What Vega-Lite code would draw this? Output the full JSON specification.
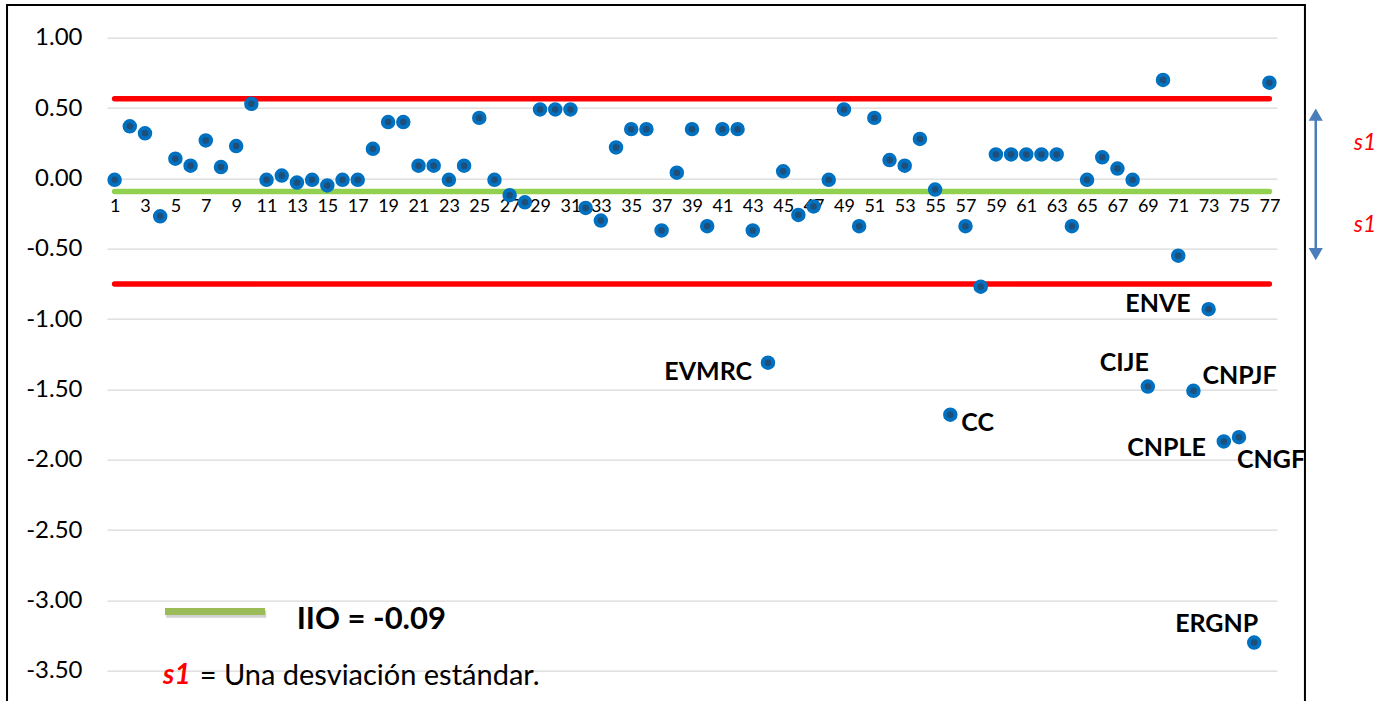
{
  "$schema": "https://vega.github.io/schema/vega-lite/v6.json",
  "width": 1170,
  "height": 633,
  "autosize": {"type": "none"},
  "padding": {"left": 107, "top": 37.7, "right": 102, "bottom": 30},
  "config": {"font": "Lato", "view": {"stroke": null}},
  "datasets": {
    "puntos": [
      {"n": 1, "valor": -0.01, "sigla": ""},
      {"n": 2, "valor": 0.37, "sigla": ""},
      {"n": 3, "valor": 0.32, "sigla": ""},
      {"n": 4, "valor": -0.27, "sigla": ""},
      {"n": 5, "valor": 0.14, "sigla": ""},
      {"n": 6, "valor": 0.09, "sigla": ""},
      {"n": 7, "valor": 0.27, "sigla": ""},
      {"n": 8, "valor": 0.08, "sigla": ""},
      {"n": 9, "valor": 0.23, "sigla": ""},
      {"n": 10, "valor": 0.53, "sigla": ""},
      {"n": 11, "valor": -0.01, "sigla": ""},
      {"n": 12, "valor": 0.02, "sigla": ""},
      {"n": 13, "valor": -0.03, "sigla": ""},
      {"n": 14, "valor": -0.01, "sigla": ""},
      {"n": 15, "valor": -0.05, "sigla": ""},
      {"n": 16, "valor": -0.01, "sigla": ""},
      {"n": 17, "valor": -0.01, "sigla": ""},
      {"n": 18, "valor": 0.21, "sigla": ""},
      {"n": 19, "valor": 0.40, "sigla": ""},
      {"n": 20, "valor": 0.40, "sigla": ""},
      {"n": 21, "valor": 0.09, "sigla": ""},
      {"n": 22, "valor": 0.09, "sigla": ""},
      {"n": 23, "valor": -0.01, "sigla": ""},
      {"n": 24, "valor": 0.09, "sigla": ""},
      {"n": 25, "valor": 0.43, "sigla": ""},
      {"n": 26, "valor": -0.01, "sigla": ""},
      {"n": 27, "valor": -0.12, "sigla": ""},
      {"n": 28, "valor": -0.17, "sigla": ""},
      {"n": 29, "valor": 0.49, "sigla": ""},
      {"n": 30, "valor": 0.49, "sigla": ""},
      {"n": 31, "valor": 0.49, "sigla": ""},
      {"n": 32, "valor": -0.21, "sigla": ""},
      {"n": 33, "valor": -0.30, "sigla": ""},
      {"n": 34, "valor": 0.22, "sigla": ""},
      {"n": 35, "valor": 0.35, "sigla": ""},
      {"n": 36, "valor": 0.35, "sigla": ""},
      {"n": 37, "valor": -0.37, "sigla": ""},
      {"n": 38, "valor": 0.04, "sigla": ""},
      {"n": 39, "valor": 0.35, "sigla": ""},
      {"n": 40, "valor": -0.34, "sigla": ""},
      {"n": 41, "valor": 0.35, "sigla": ""},
      {"n": 42, "valor": 0.35, "sigla": ""},
      {"n": 43, "valor": -0.37, "sigla": ""},
      {"n": 44, "valor": -1.31, "sigla": "EVMRC"},
      {"n": 45, "valor": 0.05, "sigla": ""},
      {"n": 46, "valor": -0.26, "sigla": ""},
      {"n": 47, "valor": -0.20, "sigla": ""},
      {"n": 48, "valor": -0.01, "sigla": ""},
      {"n": 49, "valor": 0.49, "sigla": ""},
      {"n": 50, "valor": -0.34, "sigla": ""},
      {"n": 51, "valor": 0.43, "sigla": ""},
      {"n": 52, "valor": 0.13, "sigla": ""},
      {"n": 53, "valor": 0.09, "sigla": ""},
      {"n": 54, "valor": 0.28, "sigla": ""},
      {"n": 55, "valor": -0.08, "sigla": ""},
      {"n": 56, "valor": -1.68, "sigla": "CC"},
      {"n": 57, "valor": -0.34, "sigla": ""},
      {"n": 58, "valor": -0.77, "sigla": ""},
      {"n": 59, "valor": 0.17, "sigla": ""},
      {"n": 60, "valor": 0.17, "sigla": ""},
      {"n": 61, "valor": 0.17, "sigla": ""},
      {"n": 62, "valor": 0.17, "sigla": ""},
      {"n": 63, "valor": 0.17, "sigla": ""},
      {"n": 64, "valor": -0.34, "sigla": ""},
      {"n": 65, "valor": -0.01, "sigla": ""},
      {"n": 66, "valor": 0.15, "sigla": ""},
      {"n": 67, "valor": 0.07, "sigla": ""},
      {"n": 68, "valor": -0.01, "sigla": ""},
      {"n": 69, "valor": -1.48, "sigla": "CIJE"},
      {"n": 70, "valor": 0.70, "sigla": ""},
      {"n": 71, "valor": -0.55, "sigla": ""},
      {"n": 72, "valor": -1.51, "sigla": "CNPJF"},
      {"n": 73, "valor": -0.93, "sigla": "ENVE"},
      {"n": 74, "valor": -1.87, "sigla": "CNPLE"},
      {"n": 75, "valor": -1.84, "sigla": "CNGF"},
      {"n": 76, "valor": -3.30, "sigla": "ERGNP"},
      {"n": 77, "valor": 0.68, "sigla": ""}
    ],
    "referencias": [
      {"serie": "sup", "desde": 1, "hasta": 77, "valor": 0.566},
      {"serie": "inf", "desde": 1, "hasta": 77, "valor": -0.751},
      {"serie": "iio", "desde": 1, "hasta": 77, "valor": -0.094}
    ],
    "uno": [{"k": 1}]
  },
  "encoding": {
    "x": {"type": "quantitative", "scale": {"domain": [0.5, 77.5], "nice": false, "zero": false},
      "axis": {"orient": "bottom", "offset": -492.3, "values": [1,3,5,7,9,11,13,15,17,19,21,23,25,27,29,31,33,35,37,39,41,43,45,47,49,51,53,55,57,59,61,63,65,67,69,71,73,75,77],
        "labelFontSize": 18, "labelFont": "Lato", "labelColor": "#000000", "domain": false, "ticks": false, "grid": false, "title": null, "labelPadding": 19, "labelOverlap": false, "labelFlush": false, "labelBound": false}},
    "y": {"type": "quantitative", "scale": {"domain": [-3.5, 1], "nice": false, "zero": false},
      "axis": {"values": [-3.5,-3,-2.5,-2,-1.5,-1,-0.5,0,0.5,1], "format": ".2f", "labelExpr": "replace(datum.label, '−', '-')",
        "labelFontSize": 24, "labelFont": "Lato", "labelColor": "#000000", "grid": true, "gridColor": "#d9d9d9", "gridWidth": 1.3, "domain": false, "ticks": false, "labelPadding": 25, "title": null}}
  },
  "layer": [
    {
      "data": {"name": "uno"},
      "mark": {"type": "rect", "fill": null, "fillOpacity": 0, "stroke": "#000000", "strokeWidth": 2, "clip": false},
      "encoding": {
        "x": {"datum": -6.08, "type": "quantitative"},
        "x2": {"datum": 79.34},
        "y": {"datum": 1.232, "type": "quantitative"},
        "y2": {"datum": -3.95}
      }
    },
    {
      "data": {"name": "referencias"},
      "mark": {"type": "rule", "strokeWidth": 5.5, "strokeCap": "round"},
      "encoding": {
        "x": {"field": "desde", "type": "quantitative"},
        "x2": {"field": "hasta"},
        "y": {"field": "valor", "type": "quantitative"},
        "color": {"field": "serie", "type": "nominal", "scale": {"domain": ["sup", "inf", "iio"], "range": ["#ff0000", "#ff0000", "#92d050"]}, "legend": null}
      }
    },
    {
      "data": {"name": "puntos"},
      "mark": {"type": "point", "shape": "circle", "filled": true, "fill": "#1f4e79", "stroke": "#0070c0", "strokeWidth": 4, "strokeOpacity": 1, "size": 110, "opacity": 1},
      "encoding": {
        "x": {"field": "n", "type": "quantitative"},
        "y": {"field": "valor", "type": "quantitative"}
      }
    },
    {
      "data": {"name": "puntos"},
      "transform": [{"filter": "datum.sigla == 'EVMRC'"}],
      "mark": {"type": "text", "fontWeight": "bold", "fontSize": 25, "font": "Lato", "align": "right", "baseline": "middle", "dx": -16, "dy": 9, "color": "#000000"},
      "encoding": {"x": {"field": "n", "type": "quantitative"}, "y": {"field": "valor", "type": "quantitative"}, "text": {"field": "sigla"}}
    },
    {
      "data": {"name": "puntos"},
      "transform": [{"filter": "datum.sigla == 'CC'"}],
      "mark": {"type": "text", "fontWeight": "bold", "fontSize": 25, "font": "Lato", "align": "left", "baseline": "middle", "dx": 11, "dy": 8, "color": "#000000"},
      "encoding": {"x": {"field": "n", "type": "quantitative"}, "y": {"field": "valor", "type": "quantitative"}, "text": {"field": "sigla"}}
    },
    {
      "data": {"name": "puntos"},
      "transform": [{"filter": "datum.sigla == 'ENVE'"}],
      "mark": {"type": "text", "fontWeight": "bold", "fontSize": 25, "font": "Lato", "align": "right", "baseline": "middle", "dx": -18, "dy": -5, "color": "#000000"},
      "encoding": {"x": {"field": "n", "type": "quantitative"}, "y": {"field": "valor", "type": "quantitative"}, "text": {"field": "sigla"}}
    },
    {
      "data": {"name": "puntos"},
      "transform": [{"filter": "datum.sigla == 'CIJE'"}],
      "mark": {"type": "text", "fontWeight": "bold", "fontSize": 25, "font": "Lato", "align": "right", "baseline": "middle", "dx": 1, "dy": -24, "color": "#000000"},
      "encoding": {"x": {"field": "n", "type": "quantitative"}, "y": {"field": "valor", "type": "quantitative"}, "text": {"field": "sigla"}}
    },
    {
      "data": {"name": "puntos"},
      "transform": [{"filter": "datum.sigla == 'CNPJF'"}],
      "mark": {"type": "text", "fontWeight": "bold", "fontSize": 25, "font": "Lato", "align": "left", "baseline": "middle", "dx": 9, "dy": -15, "color": "#000000"},
      "encoding": {"x": {"field": "n", "type": "quantitative"}, "y": {"field": "valor", "type": "quantitative"}, "text": {"field": "sigla"}}
    },
    {
      "data": {"name": "puntos"},
      "transform": [{"filter": "datum.sigla == 'CNPLE'"}],
      "mark": {"type": "text", "fontWeight": "bold", "fontSize": 25, "font": "Lato", "align": "right", "baseline": "middle", "dx": -18, "dy": 7, "color": "#000000"},
      "encoding": {"x": {"field": "n", "type": "quantitative"}, "y": {"field": "valor", "type": "quantitative"}, "text": {"field": "sigla"}}
    },
    {
      "data": {"name": "puntos"},
      "transform": [{"filter": "datum.sigla == 'CNGF'"}],
      "mark": {"type": "text", "fontWeight": "bold", "fontSize": 25, "font": "Lato", "align": "left", "baseline": "middle", "dx": -2, "dy": 23, "color": "#000000"},
      "encoding": {"x": {"field": "n", "type": "quantitative"}, "y": {"field": "valor", "type": "quantitative"}, "text": {"field": "sigla"}}
    },
    {
      "data": {"name": "puntos"},
      "transform": [{"filter": "datum.sigla == 'ERGNP'"}],
      "mark": {"type": "text", "fontWeight": "bold", "fontSize": 25, "font": "Lato", "align": "right", "baseline": "middle", "dx": 4, "dy": -19, "color": "#000000"},
      "encoding": {"x": {"field": "n", "type": "quantitative"}, "y": {"field": "valor", "type": "quantitative"}, "text": {"field": "sigla"}}
    },
    {
      "data": {"name": "uno"},
      "mark": {"type": "rule", "stroke": "#9a9a9a", "strokeOpacity": 0.45, "strokeWidth": 7, "strokeCap": "butt"},
      "encoding": {
        "x": {"datum": 4.40, "type": "quantitative"},
        "x2": {"datum": 10.98},
        "y": {"datum": -3.098, "type": "quantitative"}
      }
    },
    {
      "data": {"name": "uno"},
      "mark": {"type": "rule", "stroke": "#9bbb59", "strokeWidth": 7, "strokeCap": "butt"},
      "encoding": {
        "x": {"datum": 4.317, "type": "quantitative"},
        "x2": {"datum": 10.9},
        "y": {"datum": -3.08, "type": "quantitative"}
      }
    },
    {
      "data": {"name": "uno"},
      "mark": {"type": "text", "text": "IIO = -0.09", "fontWeight": "bold", "fontSize": 31, "font": "Lato", "align": "left", "baseline": "middle", "color": "#000000"},
      "encoding": {
        "x": {"datum": 12.98, "type": "quantitative"},
        "y": {"datum": -3.14, "type": "quantitative"}
      }
    },
    {
      "data": {"name": "uno"},
      "mark": {"type": "text", "text": "s1", "fontWeight": "bold", "fontStyle": "italic", "fontSize": 28, "font": "Lato", "align": "left", "baseline": "middle", "color": "#ff0000", "clip": false},
      "encoding": {
        "x": {"datum": 4.19, "type": "quantitative"},
        "y": {"datum": -3.54, "type": "quantitative"}
      }
    },
    {
      "data": {"name": "uno"},
      "mark": {"type": "text", "text": "= Una desviación estándar.", "fontSize": 29, "font": "Lato", "align": "left", "baseline": "middle", "color": "#000000", "clip": false},
      "encoding": {
        "x": {"datum": 6.6, "type": "quantitative"},
        "y": {"datum": -3.54, "type": "quantitative"}
      }
    },
    {
      "data": {"name": "uno"},
      "mark": {"type": "rule", "stroke": "#4a7ebb", "strokeWidth": 2.5, "clip": false},
      "encoding": {
        "x": {"datum": 80.05, "type": "quantitative"},
        "y": {"datum": 0.45, "type": "quantitative"},
        "y2": {"datum": -0.535}
      }
    },
    {
      "data": {"name": "uno"},
      "mark": {"type": "point", "shape": "triangle-up", "filled": true, "fill": "#4a7ebb", "stroke": null, "size": 200, "opacity": 1, "clip": false},
      "encoding": {
        "x": {"datum": 80.05, "type": "quantitative"},
        "y": {"datum": 0.4535, "type": "quantitative"}
      }
    },
    {
      "data": {"name": "uno"},
      "mark": {"type": "point", "shape": "triangle-down", "filled": true, "fill": "#4a7ebb", "stroke": null, "size": 200, "opacity": 1, "clip": false},
      "encoding": {
        "x": {"datum": 80.05, "type": "quantitative"},
        "y": {"datum": -0.539, "type": "quantitative"}
      }
    },
    {
      "data": {"name": "uno"},
      "mark": {"type": "text", "text": "s1", "fontStyle": "italic", "fontSize": 23, "font": "Lato", "align": "center", "baseline": "middle", "color": "#ff0000", "clip": false},
      "encoding": {
        "x": {"datum": 83.29, "type": "quantitative"},
        "y": {"datum": 0.251, "type": "quantitative"}
      }
    },
    {
      "data": {"name": "uno"},
      "mark": {"type": "text", "text": "s1", "fontStyle": "italic", "fontSize": 23, "font": "Lato", "align": "center", "baseline": "middle", "color": "#ff0000", "clip": false},
      "encoding": {
        "x": {"datum": 83.29, "type": "quantitative"},
        "y": {"datum": -0.332, "type": "quantitative"}
      }
    }
  ]
}
